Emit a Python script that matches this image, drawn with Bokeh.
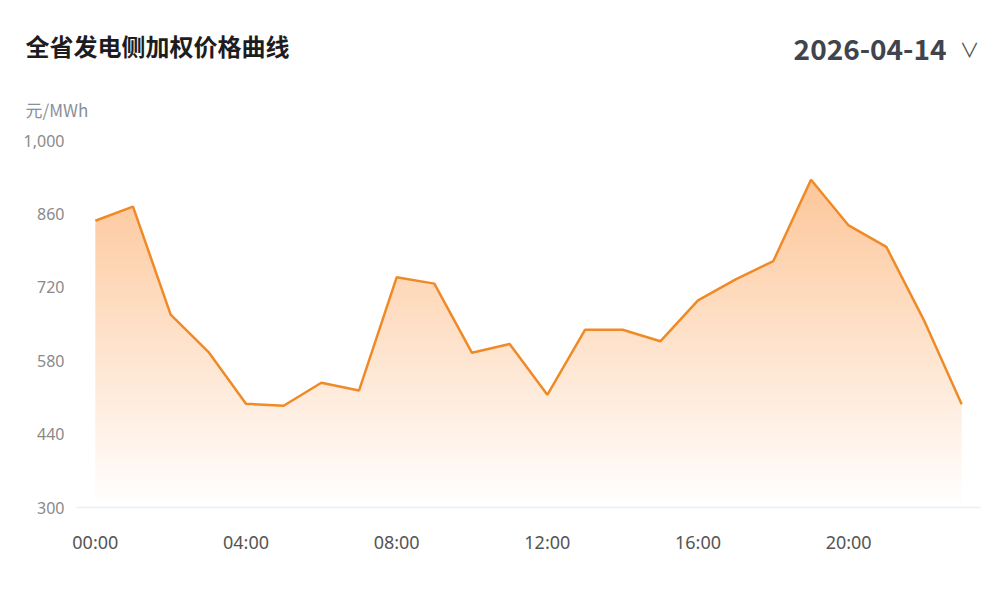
import numpy as np
from bokeh.plotting import figure
from bokeh.models import Label, FixedTicker, NumeralTickFormatter, Range1d
from bokeh.embed import file_html
from bokeh.resources import INLINE

# ---- data ----
title_text = "全省发电侧加权价格曲线"
date_text = "2026-04-14"
unit_text = "元/MWh"
hours = list(range(24))
prices = [847, 874, 668, 597, 498, 494, 538, 523, 739, 727, 595, 612,
          515, 639, 639, 617, 695, 735, 770, 925, 838, 797, 657, 497]
x_ticks = [0, 4, 8, 12, 16, 20]
x_tick_labels = ["00:00", "04:00", "08:00", "12:00", "16:00", "20:00"]
y_ticks = [300, 440, 580, 720, 860, 1000]

Y0, Y1 = 300, 1000
X0, X1 = -0.5, 23.5

W, H = 995, 597
BL, BR, BT = 76, 15, 140
FH = 367                   # frame height
BB = H - BT - FH

p = figure(width=W, height=H, output_backend="svg", toolbar_location=None,
           x_range=Range1d(X0, X1), y_range=Range1d(Y0, Y1),
           min_border_left=BL, min_border_right=BR, min_border_top=BT,
           min_border_bottom=BB)
p.outline_line_color = None
p.background_fill_color = "white"
p.border_fill_color = "white"
p.xgrid.visible = False
p.ygrid.visible = False

# gradient fill under the line (opaque blend on white)
top = max(prices)
N = 256
t = np.linspace(0, 1, N)
alpha = 0.52 * t
base = np.array([251, 146, 60])
rgb = 255 - (255 - base[None, :]) * alpha[:, None]
img = np.empty((N, 2), dtype=np.uint32)
view = img.view(dtype=np.uint8).reshape((N, 2, 4))
for c in range(3):
    view[:, :, c] = np.round(rgb[:, c])[:, None].astype(np.uint8)
view[:, :, 3] = 255
p.image_rgba(image=[img], x=hours[0], y=Y0, dw=hours[-1] - hours[0], dh=top - Y0)
# white mask above the line (extended to the frame edges)
mask_x = [X0] + hours + [X1]
mask_y = [Y0] + prices + [Y0]
p.varea(x=mask_x, y1=mask_y, y2=[Y1] * len(mask_x), fill_color="white", fill_alpha=1.0)
p.line(hours, prices, line_color="#ef8a27", line_width=2.5)

# axes
p.xaxis.ticker = FixedTicker(ticks=x_ticks)
p.xaxis.major_label_overrides = {k: v for k, v in zip(x_ticks, x_tick_labels)}
p.xaxis.axis_line_color = "#eceef3"
p.xaxis.axis_line_width = 1.5
p.xaxis.major_tick_line_color = None
p.xaxis.minor_tick_line_color = None
p.xaxis.major_tick_out = 0
p.xaxis.major_label_standoff = 22
p.xaxis.major_label_text_font = "Noto Sans"
p.xaxis.major_label_text_font_size = "18px"
p.xaxis.major_label_text_color = "#555555"

p.yaxis.ticker = FixedTicker(ticks=y_ticks)
p.yaxis.formatter = NumeralTickFormatter(format="0,0")
p.yaxis.axis_line_color = None
p.yaxis.major_tick_line_color = None
p.yaxis.minor_tick_line_color = None
p.yaxis.major_tick_out = 0
p.yaxis.major_label_standoff = 12
p.yaxis.major_label_text_font = "Noto Sans"
p.yaxis.major_label_text_font_size = "16px"
p.yaxis.major_label_text_color = "#8a8a8a"

# header texts placed in the "above" side panel (screen units relative to each stacked panel)
def lab(px, sy, text, **kw):
    p.add_layout(Label(x=px - BL, y=sy, x_units="screen", y_units="screen", text=text,
                       text_baseline="middle", **kw), "above")

lab(25, 95, title_text, text_font="Noto Sans CJK SC", text_font_size="24px",
    text_font_style="bold", text_color="#1d1d1f", text_align="left")
lab(946, 56, date_text, text_font="Noto Sans CJK SC", text_font_size="28px",
    text_font_style="bold", text_color="#40444c", text_align="right")
lab(969, 35, "∨", text_font="Noto Sans CJK SC", text_font_size="20px",
    text_color="#555555", text_align="center")
lab(25, -54, unit_text, text_font="Noto Sans CJK SC", text_font_size="17px",
    text_color="#8a8f99", text_align="left")

open("out.html", "w").write(file_html(p, INLINE))
